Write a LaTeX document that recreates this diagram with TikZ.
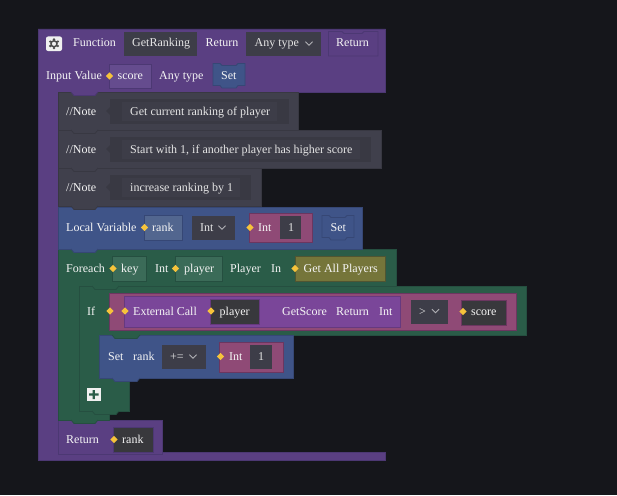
\documentclass[tikz,border=0pt]{standalone}
\usepackage{fontspec}
\setmainfont{Liberation Serif}
\definecolor{bg}{HTML}{15161B}
\definecolor{purp}{HTML}{5A3F82}
\definecolor{purpd}{HTML}{4C3873}
\definecolor{purpl}{HTML}{654C8E}
\definecolor{note}{HTML}{40404C}
\definecolor{noted}{HTML}{383842}
\definecolor{notei}{HTML}{393943}
\definecolor{blu}{HTML}{3F5488}
\definecolor{blud}{HTML}{364775}
\definecolor{blul}{HTML}{52668F}
\definecolor{grn}{HTML}{2A5C48}
\definecolor{grnd}{HTML}{254F40}
\definecolor{grnl}{HTML}{3B6B58}
\definecolor{pnk}{HTML}{8F4A76}
\definecolor{pnkd}{HTML}{6B3660}
\definecolor{vio}{HTML}{7A4699}
\definecolor{viod}{HTML}{66397F}
\definecolor{oli}{HTML}{75753A}
\definecolor{olid}{HTML}{4F5532}
\definecolor{fld}{HTML}{3D3D48}
\definecolor{drk}{HTML}{38383C}
\definecolor{gold}{HTML}{F6C33B}
\newcommand{\blocktab}[5]{% x0,x1,y,fill,draw
  \fill[#4] (#1,{#3-1}) -- (#1+3,{#3+3.5}) -- (#2-3,{#3+3.5}) -- (#2,{#3-1}) -- cycle;
  \draw[#5,line width=.8pt] (#1,#3) -- (#1+3,{#3+3.5}) -- (#2-3,{#3+3.5}) -- (#2,#3);}
\newcommand{\dia}[2]{\fill[gold] (#1-3.7,#2) -- (#1,#2-3.7) -- (#1+3.7,#2) -- (#1,#2+3.7) -- cycle;}
\newcommand{\chevron}[2]{\draw[color=white!60!fld,line width=.8pt] (#1-3.5,#2-1.8) -- (#1,#2+1.8) -- (#1+3.5,#2-1.8);}
\tikzset{
  lbl/.style={anchor=base west,inner sep=0pt,font=\fontsize{12}{14}\selectfont,text=white!92!gray},
  dim/.style={lbl,text=white!80!gray},
  box/.style={line width=.8pt},
}
\begin{document}
\begin{tikzpicture}[x=1pt,y=-1pt]
\useasboundingbox (0,0) rectangle (617,495);
\fill[bg] (0,0) rectangle (617,495);
% outer function
\draw[box,fill=purp,draw=purpd] (38,29) -- (385.5,29) -- (385.5,92) -- (58,92) -- (58,452) -- (385.5,452) -- (385.5,460) -- (38,460) -- cycle;
% return block
\draw[box,fill=purp,draw=purpd] (58,420) -- (162.5,420) -- (162.5,454.5) -- (58,454.5) -- cycle;
% foreach
\draw[box,fill=grn,draw=grnd] (58,249) -- (396,249) -- (396,286) -- (79,286) -- (79,411) -- (109,411) -- (109,420) -- (58,420) -- cycle;
\blocktab{71}{98}{420}{grn}{grnd}
% if
\draw[box,fill=grn,draw=grnd] (79,286) -- (526.5,286) -- (526.5,335) -- (99,335) -- (99,378) -- (129,378) -- (129,411) -- (79,411) -- cycle;
\blocktab{92}{119}{411}{grn}{grnd}
% set
\draw[box,fill=blu,draw=blud] (99,335) -- (293,335) -- (293,378) -- (99,378) -- cycle;
\blocktab{112}{140}{378}{blu}{blud}
\blocktab{112}{140}{335}{grn}{grnd}
\blocktab{92}{119}{286}{grn}{grnd}
% local var
\draw[box,fill=blu,draw=blud] (58,207) -- (362,207) -- (362,249) -- (58,249) -- cycle;
\blocktab{71}{98}{249}{blu}{blud}
% notes
\draw[box,fill=note,draw=noted] (58,168) rectangle (261.5,206);
\blocktab{71}{98}{206}{note}{noted}
\draw[box,fill=note,draw=noted] (58,130) rectangle (381,168);
\blocktab{71}{98}{168}{note}{noted}
\draw[box,fill=note,draw=noted] (58,92) rectangle (298,130);
\blocktab{71}{98}{130}{note}{noted}
\blocktab{71}{98}{92}{purp}{purpd}
% note fields
\fill[notei] (110,99) rectangle (289,124);
\fill[notei] (110,107) -- (106,111) -- (110,115) -- cycle;
\fill[fld] (121.5,102) rectangle (277,121);
\fill[notei] (110,137) rectangle (371,162);
\fill[notei] (110,145) -- (106,149) -- (110,153) -- cycle;
\fill[fld] (121.5,140) rectangle (360,158.5);
\fill[notei] (110,175) rectangle (251,200);
\fill[notei] (110,183) -- (106,187) -- (110,191) -- cycle;
\fill[fld] (121.5,178) rectangle (240,196.5);
% header
\fill[white!88!gray,rounded corners=2pt] (46,36.5) rectangle (62,51);
\fill[black!70] (54,39.5) circle (1.3) (54,48) circle (1.3) (50.2,41.6) circle (1.3) (57.8,41.6) circle (1.3) (50.2,46) circle (1.3) (57.8,46) circle (1.3);
\draw[black!70,line width=1.5pt] (54,43.8) circle (3);
\fill[fld] (124,32) rectangle (197,56);
\fill[fld] (246,32) rectangle (321,56);
\chevron{309}{43.5}
\draw[box,fill=purp,draw=purpd] (328.5,31.5) -- (342,31.5) -- (344,33.5) -- (362,33.5) -- (364,31.5) -- (378,31.5) -- (378,56) -- (328.5,56) -- cycle;
\draw[box,fill=purpl,draw=purpd] (109,64) rectangle (151,88);
\draw[box,fill=blu,draw=blud] (213,63.5) -- (220,63.5) -- (222,65.5) -- (236,65.5) -- (238,63.5) -- (245,63.5) -- (245,85.5) -- (238,85.5) -- (236,88) -- (222,88) -- (220,85.5) -- (213,85.5) -- cycle;
\dia{109.5}{76}
% local var parts
\draw[box,fill=blul,draw=blud] (144,215.5) rectangle (182,240);
\dia{144.5}{227.5}
\fill[fld] (192,216) rectangle (235,240);
\chevron{222}{227.5}
\draw[line width=1pt,fill=pnk,draw=pnkd] (249.5,213) rectangle (312,242);
\fill[fld] (280,216) rectangle (301,239);
\dia{250}{227.5}
\draw[box,fill=blu,draw=blud] (322,215.5) -- (329,215.5) -- (331,217.5) -- (345,217.5) -- (347,215.5) -- (354,215.5) -- (354,237.5) -- (347,237.5) -- (345,240) -- (331,240) -- (329,237.5) -- (322,237.5) -- cycle;
% foreach parts
\draw[box,fill=grnl,draw=grnd] (112.5,256.5) rectangle (146,281);
\dia{113}{268.5}
\draw[box,fill=grnl,draw=grnd] (175.5,256.5) rectangle (222,281);
\dia{175.5}{268.5}
\draw[box,fill=oli,draw=olid] (295,256.5) rectangle (385,281);
\dia{295}{268.5}
% if parts
\draw[box,fill=pnk,draw=pnkd] (109.5,293.5) rectangle (516.5,330);
\draw[box,fill=vio,draw=viod] (124.5,296.5) rectangle (400.5,327);
\draw[box,fill=drk,draw=viod] (210.5,299) rectangle (259,324.5);
\fill[fld] (411,300) rectangle (448,324);
\chevron{435.5}{311}
\draw[box,fill=drk,draw=pnkd] (461.5,300) rectangle (506,325);
\dia{110}{311}
\dia{125}{311}
\dia{211}{311}
\dia{463}{311.5}
% set parts
\fill[fld] (162,345) rectangle (205.5,369);
\chevron{193}{356.5}
\draw[box,fill=pnk,draw=pnkd] (219.5,342.5) rectangle (283,372);
\fill[fld] (250,345) rectangle (272,369);
\dia{220.5}{356.5}
% plus
\fill[white!88!gray] (87,388) rectangle (100.5,401);
\fill[grn] (92.7,390) rectangle (94.8,399) (89,393.4) rectangle (98.5,395.6);
% return parts
\draw[box,fill=drk,draw=purpd] (113.5,427) rectangle (153,452.5);
\dia{114}{439.5}
% text
\node[lbl] (tFunc) at (73,47) {Function};
\node[dim] (tName) at (132,47) {GetRanking};
\node[lbl] (tRet) at (205.5,47) {Return};
\node[dim] (tAny) at (254.5,47) {Any type};
\node[lbl] (tRetB) at (336,47) {Return};
\node[lbl] (tInp) at (46,79) {Input Value};
\node[lbl] (tScore) at (117.5,79.5) {score};
\node[lbl] (tAny2) at (159,79) {Any type};
\node[lbl] (tSet) at (221,79) {Set};
\node[lbl] (tN1) at (66,115) {//Note};
\node[dim] (tN1v) at (130,115) {Get current ranking of player};
\node[lbl] (tN2) at (66,153) {//Note};
\node[dim] (tN2v) at (130,153) {Start with 1, if another player has higher score};
\node[lbl] (tN3) at (66,191) {//Note};
\node[dim] (tN3v) at (130,191) {increase ranking by 1};
\node[lbl] (tLoc) at (66,231) {Local Variable};
\node[lbl] (tRank) at (152,231) {rank};
\node[dim] (tInt) at (200,231) {Int};
\node[lbl] (tInt2) at (258,231) {Int};
\node[dim] (tOne) at (288,231) {1};
\node[lbl] (tSet2) at (330.5,231) {Set};
\node[lbl] (tFor) at (66,272) {Foreach};
\node[lbl] (tKey) at (121,272) {key};
\node[lbl] (tInt3) at (155,272) {Int};
\node[lbl] (tPl) at (184,272) {player};
\node[lbl] (tPl2) at (230,272) {Player};
\node[lbl] (tIn) at (271,272) {In};
\node[lbl] (tAll) at (303.5,272) {Get All Players};
\node[lbl] (tIf) at (87,315) {If};
\node[lbl] (tExt) at (133,315) {External Call};
\node[lbl] (tPl3) at (219.5,315) {player};
\node[lbl] (tGS) at (282,315) {GetScore};
\node[lbl] (tRet3) at (336,315) {Return};
\node[lbl] (tInt4) at (379,315) {Int};
\node[dim] (tGt) at (419,315) {>};
\node[lbl] (tSc2) at (471,315) {score};
\node[lbl] (tSet3) at (108,360) {Set};
\node[lbl] (tRk2) at (133,360) {rank};
\node[dim] (tPe) at (170,360) {+=};
\node[lbl] (tInt5) at (229,360) {Int};
\node[dim] (tOne2) at (258,360) {1};
\node[lbl] (tRet4) at (66,443) {Return};
\node[lbl] (tRk3) at (122,443) {rank};
\end{tikzpicture}
\end{document}
